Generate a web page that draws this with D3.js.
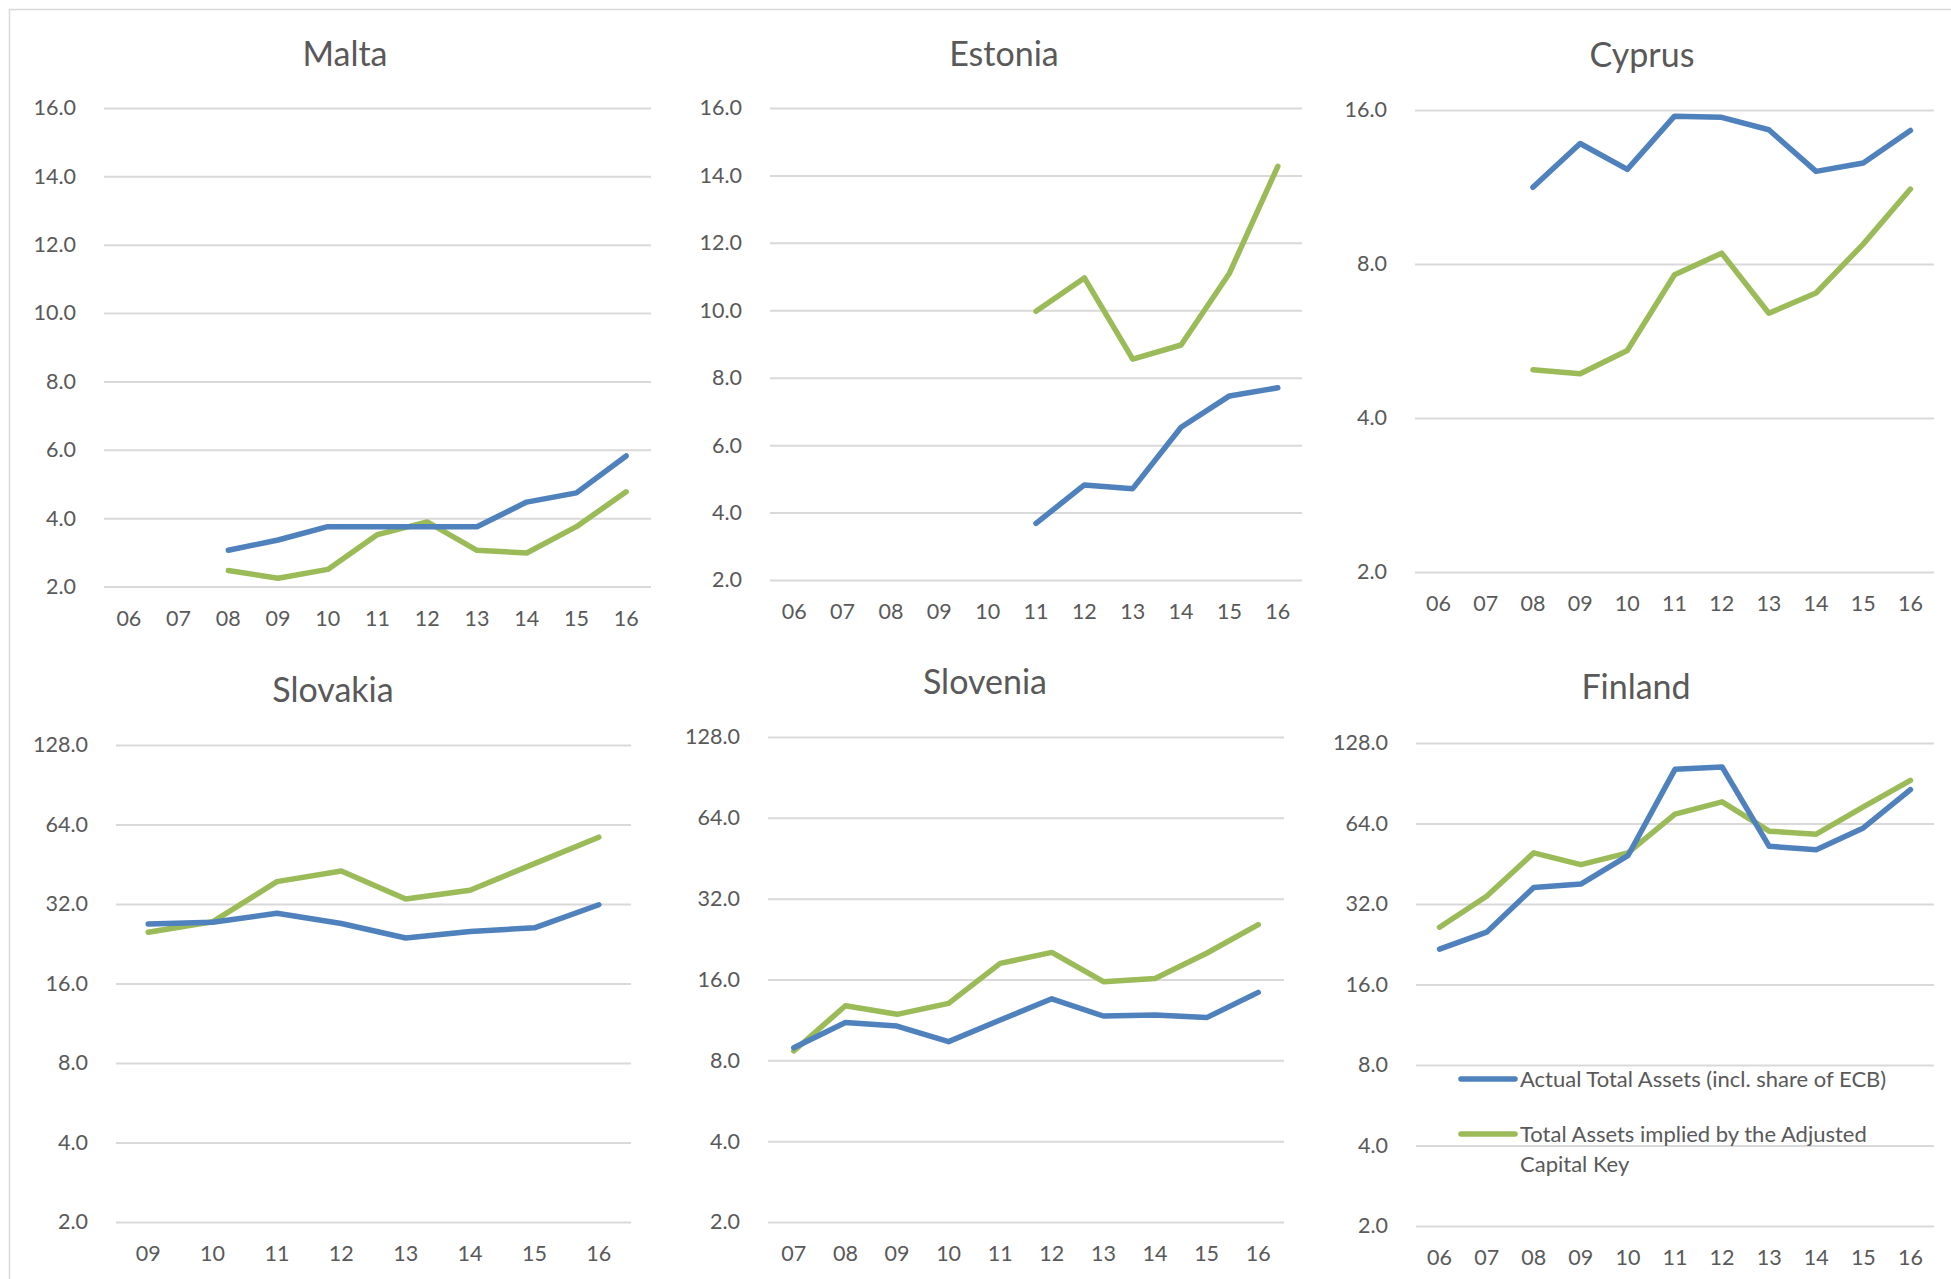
<!DOCTYPE html>
<html>
<head>
<meta charset="utf-8">
<script src="https://cdn.jsdelivr.net/npm/d3@7"></script>
<style>
  html, body { margin: 0; padding: 0; background: #ffffff; }
  svg { display: block; }
  text { font-family: Lato, "Open Sans", sans-serif; fill: #595959; }
</style>
</head>
<body>
<svg id="chart" width="1951" height="1279"></svg>
<script>
// Year labels (two-digit) for each country panel
const yearsMalta    = ["06","07","08","09","10","11","12","13","14","15","16"];
const yearsEstonia  = ["06","07","08","09","10","11","12","13","14","15","16"];
const yearsCyprus   = ["06","07","08","09","10","11","12","13","14","15","16"];
const yearsSlovakia = ["09","10","11","12","13","14","15","16"];
const yearsSlovenia = ["07","08","09","10","11","12","13","14","15","16"];
const yearsFinland  = ["06","07","08","09","10","11","12","13","14","15","16"];

// Actual Total Assets (incl. share of ECB), EUR bn
const maltaActual    = [null, null, 3.06, 3.36, 3.75, 3.75, 3.75, 3.75, 4.47, 4.74, 5.82];
const estoniaActual  = [null, null, null, null, null, 3.68, 4.82, 4.71, 6.53, 7.46, 7.70];
const cyprusActual   = [null, null, 11.3, 13.76, 12.25, 15.56, 15.48, 14.64, 12.14, 12.6, 14.59];
const slovakiaActual = [26.9, 27.3, 29.5, 27.0, 23.8, 25.2, 26.0, 31.8];
const sloveniaActual = [8.91, 11.07, 10.73, 9.39, 11.3, 13.56, 11.7, 11.79, 11.54, 14.33];
const finlandActual  = [21.7, 25.1, 36.9, 38.0, 48.5, 102.0, 104.2, 52.6, 51.1, 61.6, 85.6];

// Total Assets implied by the Adjusted Capital Key, EUR bn
const maltaImplied    = [null, null, 2.47, 2.24, 2.5, 3.52, 3.89, 3.06, 2.98, 3.75, 4.77];
const estoniaImplied  = [null, null, null, null, null, 9.97, 10.96, 8.55, 8.97, 11.1, 14.27];
const cyprusImplied   = [null, null, 4.97, 4.88, 5.42, 7.62, 8.4, 6.41, 7.02, 8.75, 11.21];
const slovakiaImplied = [25.0, 27.4, 38.9, 42.7, 33.4, 36.1, 45.5, 57.3];
const sloveniaImplied = [8.67, 12.77, 11.87, 13.04, 18.37, 20.18, 15.7, 16.15, 20.04, 25.6];
const finlandImplied  = [26.2, 34.2, 49.7, 44.9, 49.7, 69.4, 77.1, 59.9, 58.4, 73.9, 92.8];

// Value-axis tick values
const ticksLinear   = [2, 4, 6, 8, 10, 12, 14, 16];
const ticksLogSmall = [2, 4, 8, 16];
const ticksLogLarge = [2, 4, 8, 16, 32, 64, 128];

// Legend entries (second label wraps onto two lines)
const legendActual  = ["Actual Total Assets (incl. share of ECB)"];
const legendImplied = ["Total Assets implied by the Adjusted", "Capital Key"];

const COLOR_ACTUAL = "#4F81BD";
const COLOR_IMPLIED = "#9BBB59";
const GRID = "#d9d9d9";

const svg = d3.select("#chart");

// Outer frame (left and top edges are visible)
svg.append("line").attr("x1", 9.5).attr("x2", 9.5).attr("y1", 9).attr("y2", 1279)
  .attr("stroke", GRID).attr("stroke-width", 1.5);
svg.append("line").attr("x1", 9).attr("x2", 1951).attr("y1", 9.5).attr("y2", 9.5)
  .attr("stroke", GRID).attr("stroke-width", 1.5);

// Panel layout: plot area bounds and title position
const panels = [
  { title: "Malta",    years: yearsMalta,    actual: maltaActual,    implied: maltaImplied,
    type: "linear", domain: [2, 16], ticks: ticksLinear,
    x0: 104, x1: 651, yTop: 108, yBot: 586.5, tx: 345, ty: 66 },
  { title: "Estonia",  years: yearsEstonia,  actual: estoniaActual,  implied: estoniaImplied,
    type: "linear", domain: [2, 16], ticks: ticksLinear,
    x0: 770, x1: 1302, yTop: 108, yBot: 580, tx: 1004, ty: 66 },
  { title: "Cyprus",   years: yearsCyprus,   actual: cyprusActual,   implied: cyprusImplied,
    type: "log", domain: [2, 16], ticks: ticksLogSmall,
    x0: 1415, x1: 1934, yTop: 110, yBot: 572, tx: 1642, ty: 67 },
  { title: "Slovakia", years: yearsSlovakia, actual: slovakiaActual, implied: slovakiaImplied,
    type: "log", domain: [2, 128], ticks: ticksLogLarge,
    x0: 116, x1: 631, yTop: 745, yBot: 1222, tx: 333, ty: 702 },
  { title: "Slovenia", years: yearsSlovenia, actual: sloveniaActual, implied: sloveniaImplied,
    type: "log", domain: [2, 128], ticks: ticksLogLarge,
    x0: 768, x1: 1284, yTop: 737, yBot: 1222, tx: 985, ty: 694 },
  { title: "Finland",  years: yearsFinland,  actual: finlandActual,  implied: finlandImplied,
    type: "log", domain: [2, 128], ticks: ticksLogLarge,
    x0: 1416, x1: 1934, yTop: 743, yBot: 1226, tx: 1636, ty: 699, legend: true }
];

panels.forEach(p => {
  const g = svg.append("g");

  const x = d3.scaleBand().domain(p.years).range([p.x0, p.x1]);
  const y = (p.type === "log" ? d3.scaleLog().base(2) : d3.scaleLinear())
    .domain(p.domain).range([p.yBot, p.yTop]);

  // Title
  g.append("text")
    .attr("x", p.tx).attr("y", p.ty)
    .attr("text-anchor", "middle")
    .attr("font-size", 34)
    .text(p.title);

  // Value axis with gridlines
  const yAxis = d3.axisLeft(y)
    .tickValues(p.ticks)
    .tickFormat(d3.format(".1f"))
    .tickSize(-(p.x1 - p.x0))
    .tickPadding(28);
  const ya = g.append("g").attr("transform", `translate(${p.x0},0)`).call(yAxis);
  ya.select(".domain").remove();
  ya.selectAll(".tick line").attr("stroke", GRID).attr("stroke-width", 2);
  ya.selectAll(".tick text")
    .attr("font-size", 21.5).attr("fill", "#595959")
    .attr("font-family", "Lato, 'Open Sans', sans-serif");

  // Category axis
  const xAxis = d3.axisBottom(x).tickSize(0).tickPadding(24);
  const xa = g.append("g").attr("transform", `translate(0,${p.yBot})`).call(xAxis);
  xa.select(".domain").remove();
  xa.selectAll(".tick text")
    .attr("font-size", 21.5).attr("fill", "#595959")
    .attr("font-family", "Lato, 'Open Sans', sans-serif");

  const line = d3.line()
    .defined(d => d.v != null)
    .x(d => x(d.k) + x.bandwidth() / 2)
    .y(d => y(d.v));

  [[p.implied, COLOR_IMPLIED], [p.actual, COLOR_ACTUAL]].forEach(([vals, col]) => {
    const pts = p.years.map((k, i) => ({ k, v: vals[i] }));
    g.append("path")
      .datum(pts)
      .attr("d", line)
      .attr("fill", "none")
      .attr("stroke", col)
      .attr("stroke-width", 5.5)
      .attr("stroke-linecap", "round")
      .attr("stroke-linejoin", "round");
  });

  if (p.legend) {
    const lg = g.append("g");
    const entries = [
      { color: COLOR_ACTUAL, y: 1079, lines: legendActual },
      { color: COLOR_IMPLIED, y: 1134, lines: legendImplied }
    ];
    entries.forEach(e => {
      lg.append("line")
        .attr("x1", 1461).attr("x2", 1515)
        .attr("y1", e.y).attr("y2", e.y)
        .attr("stroke", e.color).attr("stroke-width", 5.5)
        .attr("stroke-linecap", "round");
      e.lines.forEach((t, i) => {
        lg.append("text")
          .attr("x", 1520).attr("y", e.y + 8 + i * 30)
          .attr("font-size", 22)
          .text(t);
      });
    });
  }
});
</script>
</body>
</html>
